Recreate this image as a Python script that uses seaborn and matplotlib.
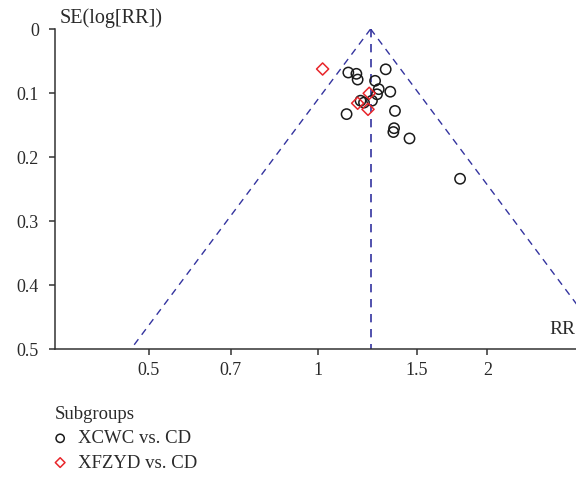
import numpy as np
import pandas as pd
import matplotlib
matplotlib.use('Agg')
import matplotlib.pyplot as plt
import seaborn as sns

# study estimates
xcwc_rr = [1.132, 1.170, 1.176, 1.319, 1.263, 1.282, 1.273, 1.344, 1.247,
           1.190, 1.207, 1.124, 1.370, 1.365, 1.361, 1.454, 1.788]
xcwc_se = [0.068, 0.070, 0.079, 0.063, 0.081, 0.094, 0.102, 0.098, 0.112,
           0.112, 0.115, 0.133, 0.128, 0.155, 0.161, 0.171, 0.234]
xfzyd_rr = [1.019, 1.233, 1.176, 1.227]
xfzyd_se = [0.0625, 0.1005, 0.116, 0.1255]
pooled_rr = 1.24

x_ticks = [0.5, 0.7, 1, 1.5, 2]
x_tick_labels = ['0.5', '0.7', '1', '1.5', '2']
y_ticks = [0, 0.1, 0.2, 0.3, 0.4, 0.5]
y_tick_labels = ['0', '0.1', '0.2', '0.3', '0.4', '0.5']

df = pd.DataFrame({
    'RR': xcwc_rr + xfzyd_rr,
    'SE': xcwc_se + xfzyd_se,
    'Subgroup': ['XCWC vs. CD'] * len(xcwc_rr) + ['XFZYD vs. CD'] * len(xfzyd_rr),
})

sns.set_style('ticks')
plt.rcParams['font.family'] = ['Liberation Serif', 'DejaVu Serif']
plt.rcParams['font.size'] = 13

fig = plt.figure(figsize=(5.76, 4.83), dpi=100)
ax = fig.add_axes([55 / 576, 1 - 349 / 483, 1 - 55 / 576, (349 - 29) / 483])

line_col = '#34349f'
# pseudo 95% confidence limits
se_line = np.array([0, 0.6])
ax.plot(pooled_rr * np.exp(-1.96 * se_line), se_line, color=line_col, lw=1,
        ls=(0, (5, 4)))
ax.plot(pooled_rr * np.exp(1.96 * se_line), se_line, color=line_col, lw=1,
        ls=(0, (5, 4)))
ax.plot([pooled_rr, pooled_rr], [0, 0.5], color=line_col, lw=1.2, ls=(0, (5, 4)))

styles = {'XCWC vs. CD': ('o', '#1a1a1a', 55), 'XFZYD vs. CD': ('D', '#e8262b', 38)}
for name, (mk, col, sz) in styles.items():
    sub = df[df['Subgroup'] == name]
    sns.scatterplot(data=sub, x='RR', y='SE', ax=ax, marker=mk, s=sz,
                    color=col, facecolor='none', edgecolor=col, linewidth=1.1,
                    label=name, zorder=3)

ax.set_xscale('log')
ax.set_xlim(0.341, 2.873)
ax.set_ylim(0.5, 0)
ax.set_xticks(x_ticks)
ax.set_xticklabels(x_tick_labels)
ax.xaxis.set_minor_locator(matplotlib.ticker.NullLocator())
ax.set_yticks(y_ticks)
ax.set_yticklabels(y_tick_labels)
ax.set_xlabel('')
ax.set_ylabel('')

for side in ['top', 'right']:
    ax.spines[side].set_visible(False)
for side in ['left', 'bottom']:
    ax.spines[side].set_color('#333333')
    ax.spines[side].set_linewidth(1.1)
ax.tick_params(axis='both', direction='out', length=4.5, width=1.1,
               color='#333333', labelsize=13, labelcolor='#2a2a2a')
ax.tick_params(axis='y', pad=7)
ax.tick_params(axis='x', pad=5)

ax.text(0.998, 0.035, 'RR', transform=ax.transAxes, ha='right', va='bottom',
        fontsize=14, color='#2a2a2a')
fig.text(60 / 576, 1 - 18 / 483, 'SE(log[RR])', ha='left', va='center',
         fontsize=14.5, color='#2a2a2a')

leg = ax.legend(loc='upper left', bbox_to_anchor=(55 / 576, 1 - 406 / 483),
                bbox_transform=fig.transFigure, frameon=False, title='Subgroups',
                fontsize=13.5, title_fontsize=13.5, handlelength=0.55,
                handletextpad=0.68, labelspacing=0.38, borderpad=0,
                borderaxespad=0, scatterpoints=1, markerscale=0.8,
                alignment='left')
for t in leg.get_texts():
    t.set_color('#2a2a2a')
leg.get_title().set_color('#2a2a2a')

fig.savefig('out.png', dpi=100)
